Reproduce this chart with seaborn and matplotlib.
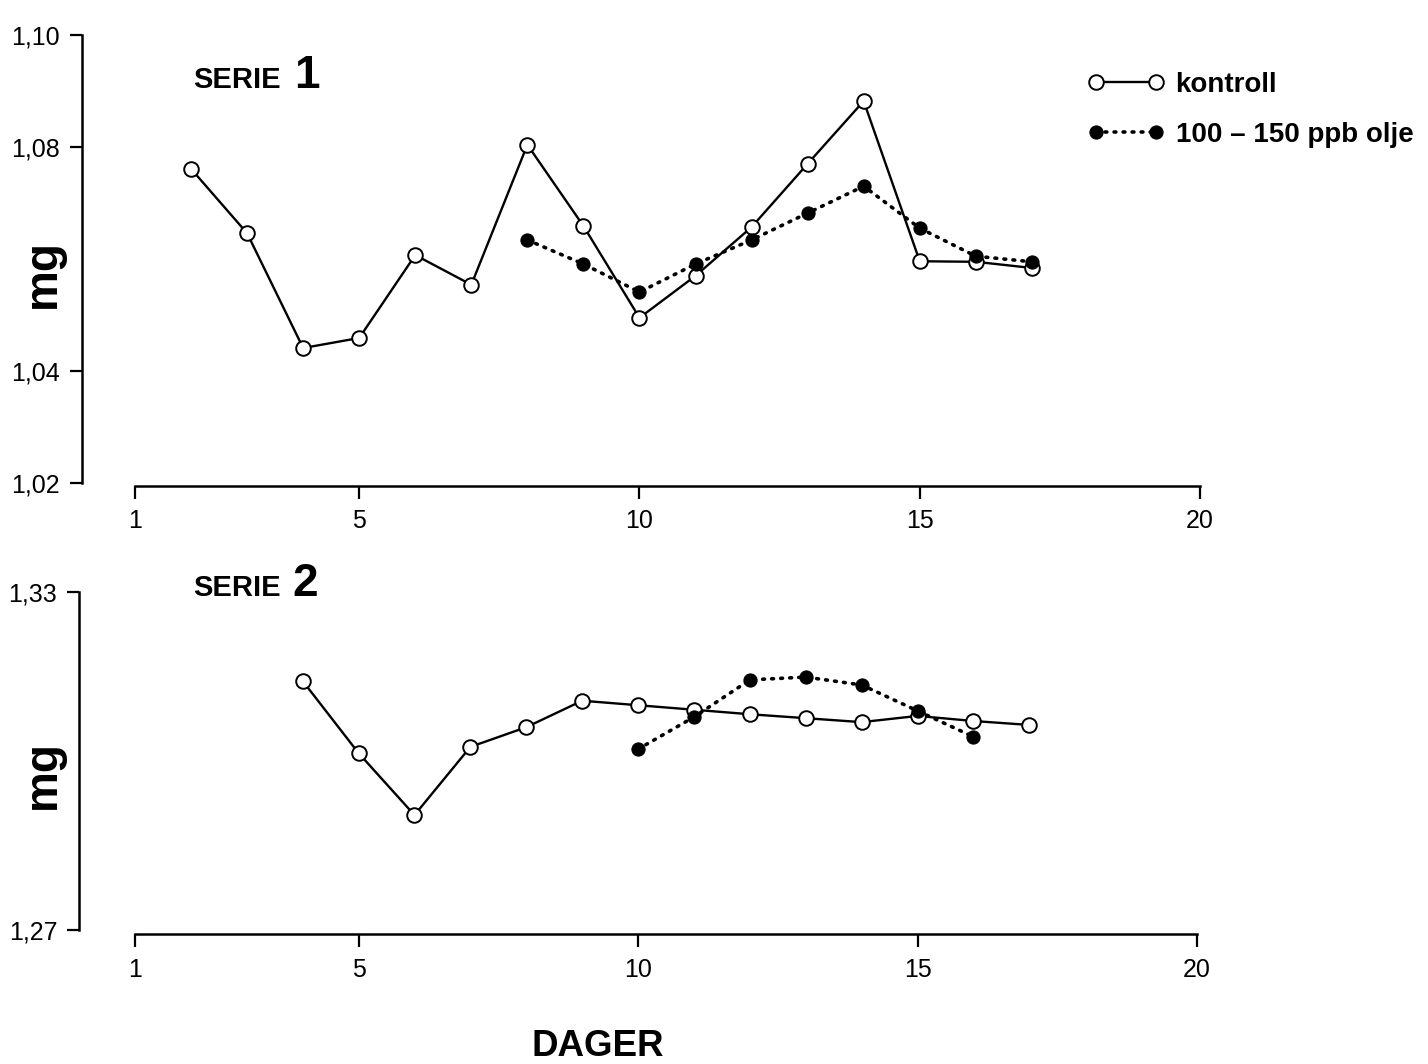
import matplotlib
matplotlib.use("Agg")
import matplotlib.pyplot as plt
import seaborn as sns
import numpy as np

# ---- data ----
s1_ctrl_days = [2, 3, 4, 5, 6, 7, 8, 9, 10, 11, 12, 13, 14, 15, 16, 17]
s1_ctrl_mg = [1.0761, 1.0646, 1.0441, 1.0459, 1.0607, 1.0554, 1.0804, 1.0659,
              1.0495, 1.0570, 1.0657, 1.0770, 1.0882, 1.0596, 1.0595, 1.0584]
s1_oil_days = [8, 9, 10, 11, 12, 13, 14, 15, 16, 17]
s1_oil_mg = [1.0634, 1.0591, 1.0541, 1.0591, 1.0634, 1.0682, 1.0730, 1.0655,
             1.0605, 1.0595]

s2_ctrl_days = [4, 5, 6, 7, 8, 9, 10, 11, 12, 13, 14, 15, 16, 17]
s2_ctrl_mg = [1.3142, 1.3014, 1.2904, 1.3025, 1.3060, 1.3107, 1.3099, 1.3091,
              1.3083, 1.3076, 1.3069, 1.3080, 1.3071, 1.3064]
s2_oil_days = [10, 11, 12, 13, 14, 15, 16]
s2_oil_mg = [1.3021, 1.3078, 1.3144, 1.3149, 1.3135, 1.3089, 1.3043]

x_ticks = [1, 5, 10, 15, 20]
y1_ticks = [1.02, 1.04, 1.08, 1.10]
y1_labels = ["1,02", "1,04", "1,08", "1,10"]
y2_ticks = [1.27, 1.33]
y2_labels = ["1,27", "1,33"]
legend_labels = ["kontroll", "100 – 150 ppb olje"]

# ---- style ----
sns.set_style("ticks")
TICK_FS = 18
plt.rcParams['font.family'] = ['Liberation Sans', 'DejaVu Sans']
plt.rcParams['axes.linewidth'] = 1.8
plt.rcParams['text.color'] = 'black'
plt.rcParams['axes.labelcolor'] = 'black'
plt.rcParams['xtick.color'] = 'black'
plt.rcParams['ytick.color'] = 'black'
plt.rcParams['axes.edgecolor'] = 'black'
plt.rcParams['xtick.labelsize'] = TICK_FS
plt.rcParams['ytick.labelsize'] = TICK_FS

W, H = 1428, 1064
fig = plt.figure(figsize=(W / 100, H / 100), dpi=100)

ax1 = fig.add_axes([135 / W, 1 - 483 / H, 1065 / W, 448 / H])
ax2 = fig.add_axes([135 / W, 1 - 930 / H, 1062 / W, 338 / H])

ctrl_kw = dict(color="black", marker="o", markersize=10.5, markerfacecolor="white",
               markeredgecolor="black", markeredgewidth=1.4, linewidth=1.7)
oil_kw = dict(color="black", marker="o", markersize=9.5, markerfacecolor="black",
              markeredgecolor="black", linewidth=2.6, linestyle=(0, (0.5, 2.0)),
              dash_capstyle="round")

for ax, cd, cv, od, ov, offs in [
        (ax1, s1_ctrl_days, s1_ctrl_mg, s1_oil_days, s1_oil_mg, {"left": 38, "bottom": 2}),
        (ax2, s2_ctrl_days, s2_ctrl_mg, s2_oil_days, s2_oil_mg, {"left": 40, "bottom": 3})]:
    sns.lineplot(x=cd, y=cv, ax=ax, label=legend_labels[0], zorder=3, **ctrl_kw)
    sns.lineplot(x=od, y=ov, ax=ax, label=legend_labels[1], zorder=4, **oil_kw)
    leg = ax.get_legend()
    if leg is not None:
        leg.remove()
    sns.despine(ax=ax, offset=offs)
    ax.set_xlim(1, 20)
    ax.set_xticks(x_ticks)
    ax.set_xticklabels([str(t) for t in x_ticks])
    ax.tick_params(axis="both", direction="out", length=9, width=1.6,
                   pad=7, colors="black", labelsize=TICK_FS)
    ax.tick_params(axis="x", pad=8)
    ax.set_xlabel("")
    ax.set_ylabel("")

ax1.set_ylim(1.02, 1.10)
ax1.set_yticks(y1_ticks)
ax1.set_yticklabels(y1_labels)
ax2.set_ylim(1.27, 1.33)
ax2.set_yticks(y2_ticks)
ax2.set_yticklabels(y2_labels)
for ax in (ax1, ax2):
    for lab in ax.get_xticklabels() + ax.get_yticklabels():
        lab.set_fontsize(TICK_FS)

# labels
fig.text(43 / W, 1 - 274 / H, "mg", rotation=90, ha="center", va="center",
         fontsize=33, fontweight="bold")
fig.text(43 / W, 1 - 775 / H, "mg", rotation=90, ha="center", va="center",
         fontsize=33, fontweight="bold")
fig.text(598 / W, 1 - 1064 / H, "DAGER", ha="center", va="bottom",
         fontsize=26.5, fontweight="bold")

fig.text(193 / W, 1 - 88 / H, "SERIE", ha="left", va="baseline",
         fontsize=21, fontweight="bold")
fig.text(294 / W, 1 - 88 / H, "1", ha="left", va="baseline",
         fontsize=33, fontweight="bold")
fig.text(193 / W, 1 - 596 / H, "SERIE", ha="left", va="baseline",
         fontsize=21, fontweight="bold")
fig.text(292 / W, 1 - 596 / H, "2", ha="left", va="baseline",
         fontsize=33, fontweight="bold")

handles, labels = ax1.get_legend_handles_labels()
fig.legend(handles, labels, loc="upper left", bbox_to_anchor=(1063 / W, 1 - 47 / H),
           numpoints=2, handlelength=2.75, handletextpad=0.4, labelspacing=0.85,
           frameon=False, prop={"size": 20, "weight": "bold"})

fig.savefig("out.png", dpi=100, facecolor="white")
